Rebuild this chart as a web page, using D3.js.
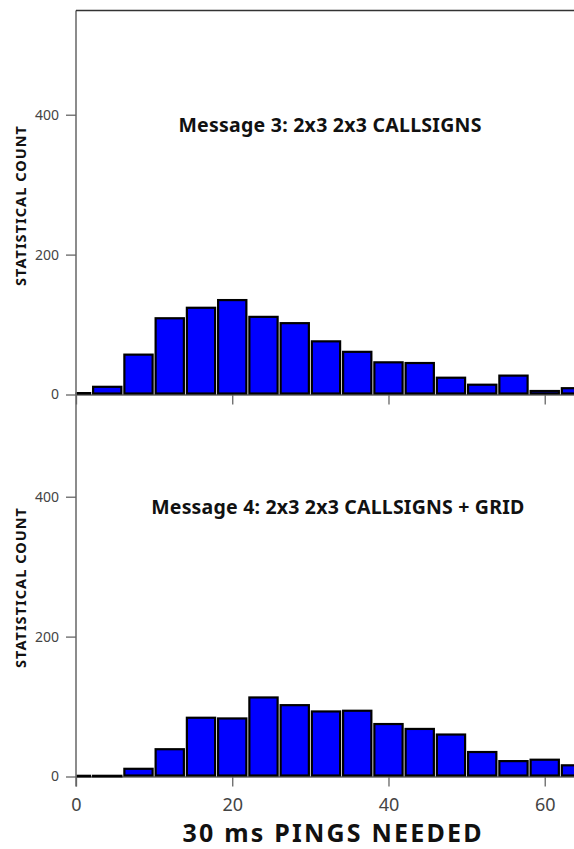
<!DOCTYPE html>
<html><head><meta charset="utf-8">
<script src="https://cdn.jsdelivr.net/npm/d3@7"></script>
<style>html,body{margin:0;padding:0;background:#fff;overflow:hidden}</style>
</head><body><svg id="c" width="574" height="849"></svg>
<script>
// bin edges (pings needed)
const binEdges = [0,2,6,10,14,18,22,26,30,34,38,42,46,50,54,58,62,66];
// Message 3 counts per bin
const msg3Counts = [2,11,57,109,124,135,111,102,76,61,46,45,24,14,27,5,9];
// Message 4 counts per bin
const msg4Counts = [1,1,11,39,84,83,113,102,93,94,75,68,60,35,22,24,16];
const panelTitles = ["Message 3: 2x3 2x3 CALLSIGNS", "Message 4: 2x3 2x3 CALLSIGNS + GRID"];
const xTicks = [0,20,40,60];
const yTicks = [0,200,400];
const yLabel = "STATISTICAL COUNT";
const xLabel = "30 ms PINGS NEEDED";

const svg = d3.select("#c");
const font = "'Noto Sans', 'Open Sans', sans-serif";
const axisColor = "#666";
const x = d3.scaleLinear().domain([0,66]).range([76, 591.6]);

const panels = [
  {counts: msg3Counts, title: panelTitles[0], tx: 32.5, tw: 303, y0: 394.5, y1: 10.5, labels: false},
  {counts: msg4Counts, title: panelTitles[1], tx: 33.5, tw: 373, y0: 776.5, y1: 392.5, labels: true}
];

panels.forEach((p, i) => {
  const y = d3.scaleLinear().domain([0,549]).range([p.y0, p.y1]);
  const g = svg.append("g");
  const bins = p.counts.map((c, k) => ({x0: binEdges[k], x1: binEdges[k+1], c}));
  // x axis
  const xa = g.append("g").attr("transform", `translate(0,${p.y0})`)
    .call(d3.axisBottom(x).tickValues(xTicks).tickSize(10).tickSizeOuter(0)
      .tickFormat(p.labels ? d3.format("d") : () => ""));
  xa.select(".domain").attr("stroke", axisColor).attr("stroke-width", 1.5);
  xa.selectAll(".tick line").attr("stroke", axisColor).attr("stroke-width", 1.3);
  xa.selectAll(".tick text").attr("fill", "#444").attr("font-size", 18).attr("font-family", font)
    .attr("y", 34).attr("dy", 0);
  // bars
  g.selectAll("rect.bar").data(bins).join("rect").attr("class","bar")
    .attr("x", d => x(d.x0) + 1.5)
    .attr("width", d => x(d.x1) - x(d.x0) - 3)
    .attr("y", d => y(d.c))
    .attr("height", d => Math.max(0.5, y(0) - y(d.c) - 1))
    .attr("fill", "#0000ff").attr("stroke", "#000").attr("stroke-width", 2.2);
  // y axis
  const ya = g.append("g").attr("transform", `translate(76,0)`)
    .call(d3.axisLeft(y).tickValues(yTicks).tickSize(10).tickSizeOuter(0));
  ya.select(".domain").attr("stroke", axisColor).attr("stroke-width", 1.5)
    .attr("d", `M0,${p.y1}V${p.y0 + (p.labels ? 10 : 0)}`);
  ya.selectAll(".tick line").attr("stroke", axisColor).attr("stroke-width", 1.3);
  ya.selectAll(".tick text").attr("fill", "#444").attr("font-size", 14).attr("font-family", font).attr("x", -17);
  // y label
  g.append("text").attr("transform", `translate(26,${(p.y0 + p.y1)/2 + 3.5}) rotate(-90)`)
    .attr("text-anchor","middle").attr("font-family", font).attr("font-weight","bold")
    .attr("font-size", 14.5).attr("fill","#111")
    .attr("textLength", 160).attr("lengthAdjust", "spacing").text(yLabel);
  // title
  g.append("text").attr("x", x(p.tx)).attr("y", y(385) + 6.5)
    .attr("text-anchor","middle").attr("font-family", font).attr("font-weight","bold")
    .attr("font-size", 19.5).attr("fill","#111")
    .attr("textLength", p.tw).attr("lengthAdjust", "spacing").text(p.title);
});

// top frame line
svg.append("line").attr("x1", 76).attr("x2", 574).attr("y1", 10.5).attr("y2", 10.5)
  .attr("stroke", "#333").attr("stroke-width", 1.3);

// x label
svg.append("text").attr("x", 332).attr("y", 842)
  .attr("text-anchor","middle").attr("font-family", font).attr("font-weight","bold")
  .attr("font-size", 25).attr("fill","#111")
  .attr("textLength", 299).attr("lengthAdjust", "spacing").text(xLabel);
</script></body></html>
